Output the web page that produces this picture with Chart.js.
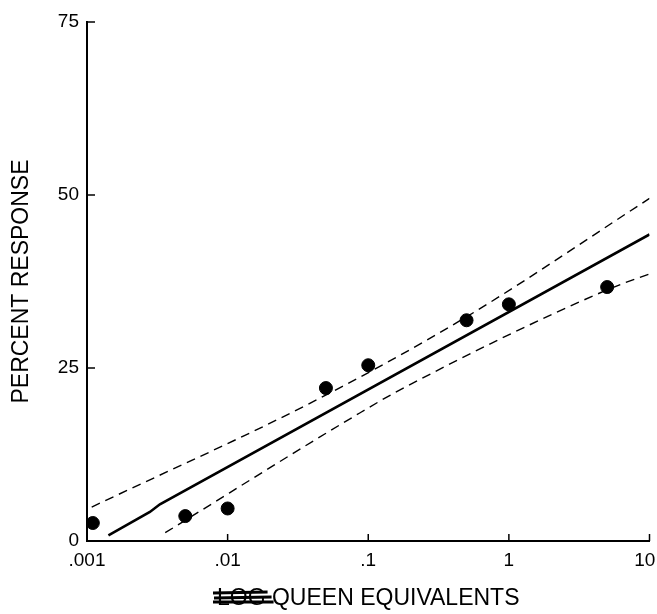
<!DOCTYPE html>
<html>
<head>
<meta charset="utf-8">
<script src="https://cdn.jsdelivr.net/npm/chart.js@4"></script>
<style>
  html, body { margin: 0; padding: 0; background: #fff; }
  #wrap { width: 657px; height: 614px; }
</style>
</head>
<body>
<div id="wrap"><canvas id="resp"></canvas></div>
<script>
// observed responses
const doseQE = [0.0011, 0.005, 0.01, 0.05, 0.1, 0.5, 1, 5];
const responsePct = [2.6, 3.6, 4.7, 22.1, 25.4, 31.9, 34.2, 36.7];

// fitted line and confidence limits
const fitX = [0.00142, 0.0028, 0.0033, 10];
const fitY = [0.8, 4.2, 5.3, 44.3];
const upperX = [0.00108, 0.043, 0.5, 10];
const upperY = [4.9, 20.4, 32.4, 49.5];
const lowerX = [0.0036, 0.087, 0.167, 5, 10];
const lowerY = [1.2, 18.5, 21.8, 36.3, 38.6];

const xTicks = [0.001, 0.01, 0.1, 1, 10];
const xTickLabels = ['.001', '.01', '.1', '1', '10'];
const yTicks = [0, 25, 50, 75];

const pts = (xs, ys) => xs.map((x, i) => ({ x: x, y: ys[i] }));

const FONT = 'Liberation Sans, Arial, sans-serif';
const TITLE_SIZE = 23;

// ticks point inward, and the struck-out word in the x title
const inwardTicks = {
  id: 'inwardTicks',
  afterDraw(chart) {
    const c = chart.ctx;
    const xs = chart.scales.x, ys = chart.scales.y;
    const a = chart.chartArea;
    c.save();
    c.strokeStyle = '#000';
    c.lineWidth = 1.5;
    yTicks.forEach(v => {
      const py = ys.getPixelForValue(v);
      c.beginPath();
      c.moveTo(a.left, py);
      c.lineTo(a.left + 8, py);
      c.stroke();
    });
    xTicks.forEach(v => {
      const px = xs.getPixelForValue(v);
      c.beginPath();
      c.moveTo(px, a.bottom);
      c.lineTo(px, a.bottom - 7);
      c.stroke();
    });

    // "LOG" scribbled out in the axis title
    c.font = TITLE_SIZE + 'px ' + FONT;
    const full = 'LOG QUEEN EQUIVALENTS';
    const w = c.measureText(full).width;
    const wLog = c.measureText('LOG').width;
    const cx = (a.left + a.right) / 2;
    const x0 = cx - w / 2;
    const ty = 598;
    c.lineWidth = 3;
    c.beginPath();
    c.moveTo(x0 - 4, ty - 5);
    c.lineTo(x0 + wLog + 2, ty - 6);
    c.moveTo(x0 - 3, ty);
    c.lineTo(x0 + wLog + 6, ty - 1);
    c.moveTo(x0 - 4, ty + 4);
    c.lineTo(x0 + wLog + 8, ty + 4);
    c.stroke();
    c.restore();
  }
};

new Chart(document.getElementById('resp'), {
  type: 'scatter',
  data: {
    datasets: [
      {
        data: pts(doseQE, responsePct),
        backgroundColor: '#000',
        borderColor: '#000',
        pointRadius: 6.5,
        pointHoverRadius: 6.5,
        order: 0
      },
      {
        data: pts(fitX, fitY),
        showLine: true,
        borderColor: '#000',
        borderWidth: 2.6,
        pointRadius: 0,
        order: 1
      },
      {
        data: pts(upperX, upperY),
        showLine: true,
        borderColor: '#000',
        borderWidth: 1.4,
        borderDash: [9, 6],
        cubicInterpolationMode: 'monotone',
        pointRadius: 0,
        order: 2
      },
      {
        data: pts(lowerX, lowerY),
        showLine: true,
        borderColor: '#000',
        borderWidth: 1.4,
        borderDash: [9, 6],
        cubicInterpolationMode: 'monotone',
        pointRadius: 0,
        order: 2
      }
    ]
  },
  options: {
    responsive: true,
    maintainAspectRatio: false,
    animation: false,
    events: [],
    layout: { padding: { left: 0, right: 7, top: 22, bottom: 0 } },
    plugins: {
      legend: { display: false },
      tooltip: { enabled: false }
    },
    scales: {
      x: {
        type: 'logarithmic',
        min: 0.001,
        max: 10,
        afterBuildTicks: s => { s.ticks = xTicks.map(v => ({ value: v })); },
        afterFit: s => { s.height = 73; s.paddingLeft = 0; s.paddingRight = 0; },
        grid: { display: false, drawTicks: false },
        border: { display: true, color: '#000', width: 2 },
        ticks: {
          color: '#000',
          padding: 8,
          maxRotation: 0,
          autoSkip: false,
          font: { family: FONT, size: 19 },
          // last label kept inside the canvas edge
          callback: (v, i) => i === xTickLabels.length - 1 ? xTickLabels[i] + '\u2002' : xTickLabels[i]
        },
        title: {
          display: true,
          text: 'LOG QUEEN EQUIVALENTS',
          color: '#000',
          font: { family: FONT, size: TITLE_SIZE },
          padding: { top: 0, bottom: 2 }
        }
      },
      y: {
        min: 0,
        max: 75,
        afterBuildTicks: s => { s.ticks = yTicks.map(v => ({ value: v })); },
        afterFit: s => { s.width = 87; s.paddingTop = 0; s.paddingBottom = 0; },
        grid: { display: false, drawTicks: false },
        border: { display: true, color: '#000', width: 2 },
        ticks: {
          color: '#000',
          padding: 8,
          font: { family: FONT, size: 19 }
        },
        title: {
          display: true,
          text: 'PERCENT RESPONSE',
          color: '#000',
          font: { family: FONT, size: TITLE_SIZE },
          padding: { top: 8, bottom: 0 }
        }
      }
    }
  },
  plugins: [inwardTicks]
});
</script>
</body>
</html>
